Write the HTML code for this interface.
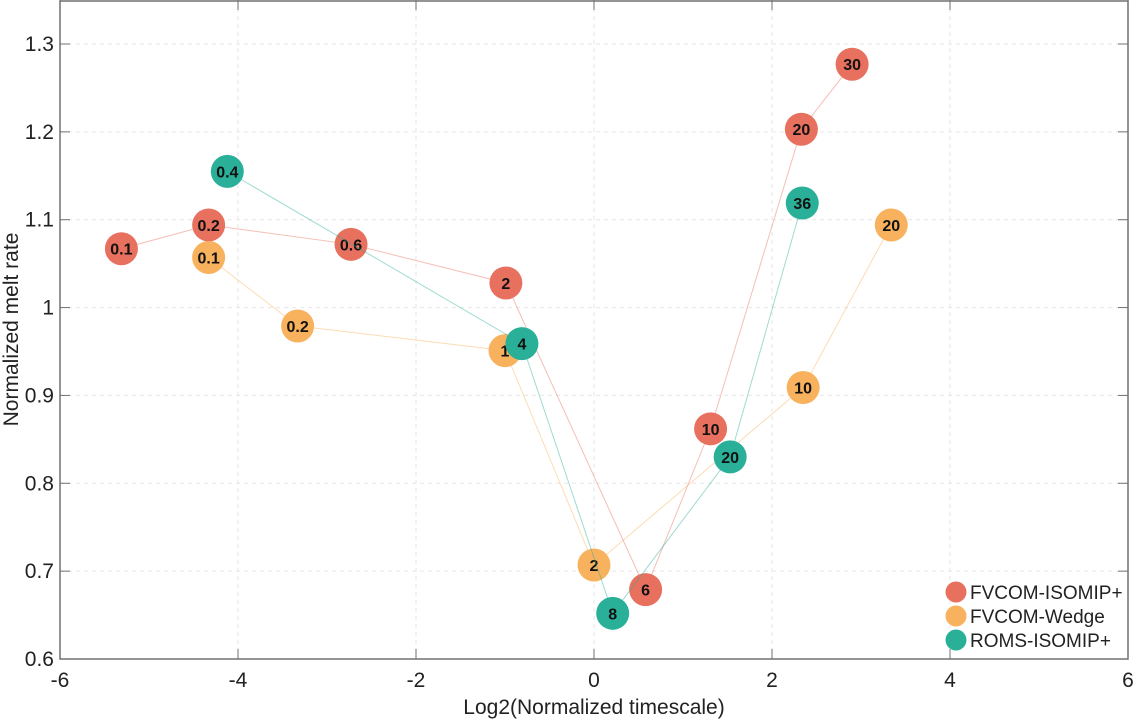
<!DOCTYPE html>
<html><head><meta charset="utf-8"><style>
html,body{margin:0;padding:0;background:#fff;}
svg{display:block;font-family:"Liberation Sans",Arial,sans-serif;}
</style></head><body>
<svg id="chart" width="1136" height="720"></svg>
<script>
const xTicks=[-6,-4,-2,0,2,4,6];
const yTicks=[0.6,0.7,0.8,0.9,1,1.1,1.2,1.3];
const seriesNames=["FVCOM-ISOMIP+","FVCOM-Wedge","ROMS-ISOMIP+"];
const seriesColors=["#e8705e","#f8b25e","#2aaf98"];
const redX=[-5.31,-4.33,-2.73,-0.99,0.58,1.31,2.33,2.90];
const redY=[1.067,1.094,1.072,1.028,0.679,0.862,1.203,1.277];
const redLabels=["0.1","0.2","0.6","2","6","10","20","30"];
const orangeX=[-4.33,-3.33,-1.0,0.0,2.35,3.34];
const orangeY=[1.057,0.979,0.951,0.707,0.909,1.094];
const orangeLabels=["0.1","0.2","1","2","10","20"];
const tealX=[-4.12,-0.81,0.21,1.53,2.34];
const tealY=[1.155,0.959,0.652,0.830,1.119];
const tealLabels=["0.4","4","8","20","36"];

const NS="http://www.w3.org/2000/svg";
const svg=document.getElementById('chart');
const L=60,R=1128,B=659,T=0;
const X=v=>L+(v+6)/12*(R-L);
const Y=v=>B-(v-0.6)/0.7*615;
function mk(tag,attrs,parent){const e=document.createElementNS(NS,tag);for(const k in attrs)e.setAttribute(k,attrs[k]);(parent||svg).appendChild(e);return e;}

const grid=mk('g',{});


xTicks.forEach(t=>{if(t>-6&&t<6)mk('line',{x1:X(t),x2:X(t),y1:T,y2:B,stroke:'#e6e6e6','stroke-dasharray':'4,4'},grid);});
yTicks.forEach(t=>{mk('line',{x1:L,x2:R,y1:Y(t),y2:Y(t),stroke:'#e6e6e6','stroke-dasharray':'4,4'},grid);});

const frame=mk('rect',{x:L,y:T+1,width:R-L,height:B-T-1,fill:'none',stroke:'#707070','stroke-width':1.5});



const xa=mk('g',{});


xTicks.forEach(t=>{
  mk('line',{x1:X(t),x2:X(t),y1:B,y2:B-10,stroke:'#707070'},xa);
  mk('line',{x1:X(t),x2:X(t),y1:T,y2:T+10,stroke:'#707070'},xa);
  const tx=mk('text',{x:X(t),y:B+28,'text-anchor':'middle','font-size':21,fill:'#222'},xa);tx.textContent=t;
});
const ya=mk('g',{});


yTicks.forEach(t=>{
  mk('line',{x1:L,x2:L+10,y1:Y(t),y2:Y(t),stroke:'#707070'},ya);
  mk('line',{x1:R,x2:R-10,y1:Y(t),y2:Y(t),stroke:'#707070'},ya);
  const tx=mk('text',{x:L-6,y:Y(t)+7,'text-anchor':'end','font-size':21,fill:'#222'},ya);tx.textContent=(t===1?'1':t.toFixed(1));
});
const xt=mk('text',{x:(L+R)/2,y:714,'text-anchor':'middle','font-size':21,fill:'#222'});
xt.textContent='Log2(Normalized timescale)';


const yt=mk('text',{x:0,y:0,'text-anchor':'middle','font-size':21,fill:'#222',transform:'translate(18,'+(B/2)+') rotate(-90)'});
yt.textContent='Normalized melt rate';



const all=[[redX,redY,redLabels],[orangeX,orangeY,orangeLabels],[tealX,tealY,tealLabels]];
all.forEach((s,i)=>{
  const g=mk('g',{});
  
  
  const pts=s[0].map((x,j)=>X(x)+','+Y(s[1][j])).join(' ');
  mk('polyline',{points:pts,fill:'none',stroke:seriesColors[i],'stroke-width':1,opacity:0.45},g);
  s[0].forEach((x,j)=>{
    const c=mk('circle',{cx:X(x),cy:Y(s[1][j]),r:16.5,fill:seriesColors[i]},g);
    
    
    const t=mk('text',{x:X(x),y:Y(s[1][j])+6,'text-anchor':'middle','font-size':16,'font-weight':'bold',fill:'#111'},g);
    t.textContent=s[2][j];
  });
});

const lg=mk('g',{});


seriesNames.forEach((n,i)=>{
  const y=592+i*24;
  const e=mk('g',{},lg);
  
  
  mk('circle',{cx:956,cy:y,r:10.5,fill:seriesColors[i]},e);
  const t=mk('text',{x:970,y:y+7,'font-size':19,fill:'#222'},e);t.textContent=n;
});
</script>
</body></html>
